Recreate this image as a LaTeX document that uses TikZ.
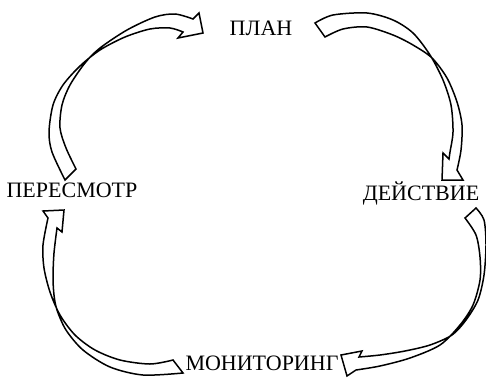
\documentclass[tikz,border=0pt]{standalone}
\usepackage{fontspec}
\setmainfont{Liberation Serif}
\begin{document}
\begin{tikzpicture}[x=1pt,y=-1pt,
  lbl/.style={anchor=base,inner sep=0pt,font=\fontsize{22}{24}\selectfont},
  carrow/.style={draw=black,line width=1.5pt,fill=white,line join=miter}]
\useasboundingbox (0,0) rectangle (486,380);
% labels
\node[lbl] (plan) at (261,35) {ПЛАН};
\node[lbl] (act) at (421,200) {ДЕЙСТВИЕ};
\node[lbl] (mon) at (262,370) {МОНИТОРИНГ};
\node[lbl] (rev) at (72,197) {ПЕРЕСМОТР};
% arrow 1: review -> plan
\draw[carrow] plot[smooth] coordinates {(65,180) (52,152) (49,132) (53,105) (63,85) (80,66) (100,50) (125,37) (150,29) (170,28) (183,32)}
  -- (178,38) -- (203,33) -- (199,13) -- (193,19)
  -- plot[smooth] coordinates {(193,19) (175,14) (155,17) (127,30) (100,48) (85,63) (70,85) (62,105) (60,128) (66,148) (76,169)} -- cycle;
% arrow 2: plan -> action
\draw[carrow] plot[smooth] coordinates {(315,23) (333,15) (367,13) (393,20) (413,33) (430,55) (443,80) (451,105) (453,132) (450,152) (449,159)}
  -- (443,153) -- (442,180) -- (463,180) -- (457,170)
  -- plot[smooth] coordinates {(457,170) (461,150) (462,125) (457,102) (447,78) (432,58) (413,45) (393,35) (367,27) (343,29) (325,37)} -- cycle;
% arrow 3: action -> monitoring
\draw[carrow] plot[smooth] coordinates {(476,208) (484,220) (486,245) (484,275) (478,300) (466,320) (452,335) (430,345) (405,351) (380,355) (359,357)}
  -- (362,351) -- (341,355) -- (347,376) -- (356,370)
  -- plot[smooth] coordinates {(356,370) (380,366) (410,358) (440,345) (460,325) (473,305) (480,280) (480,257) (476,235) (465,218)} -- cycle;
% arrow 4: monitoring -> review
\draw[carrow] plot[smooth] coordinates {(183,373) (143,375) (110,367) (83,350) (66,330) (57,310) (54,295) (53,277) (54,253) (57,228)}
  -- (62,232) -- (64,210) -- (43,211) -- (48,218)
  -- plot[smooth] coordinates {(48,218) (43,245) (44,268) (50,292) (60,315) (75,335) (95,350) (120,360) (150,364) (173,360)} -- cycle;
\end{tikzpicture}
\end{document}
